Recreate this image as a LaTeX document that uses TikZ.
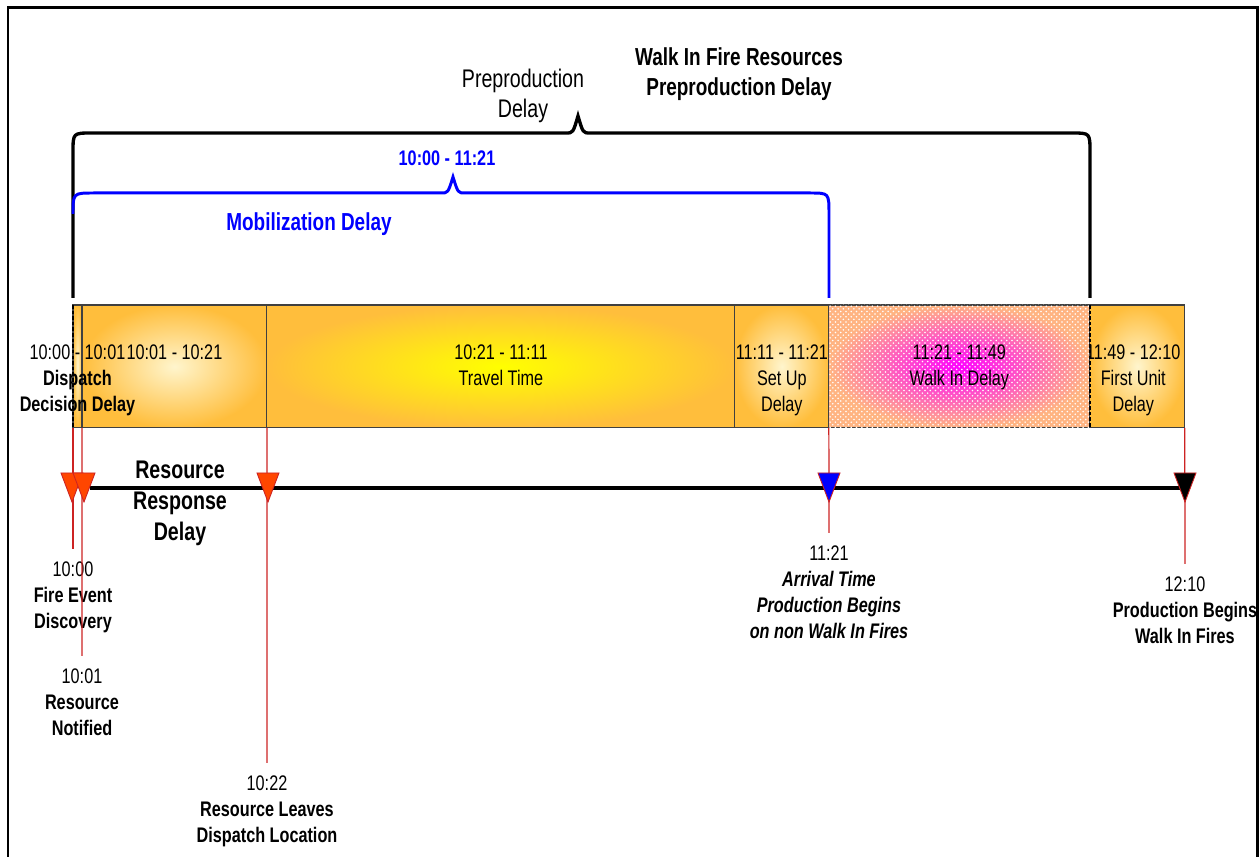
\documentclass[tikz,border=0pt]{standalone}
\usepackage{fontspec}
\setmainfont{Liberation Sans}[FakeStretch=0.77]
\usetikzlibrary{positioning,shapes.geometric,patterns}

\definecolor{barorange}{RGB}{255,190,60}
\definecolor{barcream}{RGB}{255,245,205}
\definecolor{baryellow}{RGB}{255,255,0}
\definecolor{walkpink}{RGB}{255,0,255}
\definecolor{walkedge}{RGB}{255,180,130}
\definecolor{tickred}{RGB}{205,35,35}
\definecolor{markred}{RGB}{255,70,0}
\definecolor{mobblue}{RGB}{0,0,255}

\newcommand\barfont{\fontsize{12}{14.8}\selectfont}
\newcommand\headfont{\fontsize{14.5}{17.2}\selectfont}

\begin{document}
\begin{tikzpicture}[x=0.02cm, y=-0.02cm,
  seg/.style={draw=black!75, line width=0.6pt, minimum height=2.46cm, inner sep=0pt, outer sep=0pt},
  warm/.style={seg, inner color=barcream, outer color=barorange},
  travel/.style={seg, inner color=baryellow, outer color=barorange},
  walkin/.style={seg, inner color=walkpink, outer color=walkedge, postaction={pattern=crosshatch dots, pattern color=white}},
  bartext/.style={align=center, inner sep=0pt, font=\barfont},
  divider/.style={line width=1.4pt, dash pattern=on 2pt off 1.2pt},
  brace/.style={line width=1.9pt},
  evlabel/.style={align=center, anchor=north, inner sep=7pt, font=\barfont},
  tick/.style={draw=tickred, line width=0.7pt},
  marker/.style={isosceles triangle, isosceles triangle stretches=true, rotate=-90, minimum width=0.44cm, minimum height=0.58cm, inner sep=0pt, outer sep=0pt, anchor=apex, draw=tickred, line width=0.5pt},
  timeline/.style={line width=2.4pt}
]
\useasboundingbox (0,0) rectangle (1259,857);
\draw[line width=1.7pt] (8,857) -- (8,8) -- (1257,8) -- (1257,857);

% braces over the bar
\draw[brace] (73,298) -- (73,152) .. controls (73,133) .. (92,133) -- (566,133) .. controls (573,133) .. (578,116) .. controls (583,133) .. (590,133) -- (1072,133) .. controls (1090,133) .. (1090,152) -- (1090,298);
\draw[brace, draw=mobblue, line width=1.7pt] (73,214) .. controls (73,193) .. (94,193) -- (441,193) .. controls (448,193) .. (453,177) .. controls (458,193) .. (465,193) -- (810,193) .. controls (829,193) .. (829,214) -- (829,298);

\node[font=\headfont, align=center] (hdrPre) at (523,96) {Preproduction\\Delay};
\node[font=\fontsize{14}{17.2}\selectfont\bfseries, align=center] (hdrWalk) at (739,74) {Walk In Fire Resources\\Preproduction Delay};
\node[font=\barfont\bfseries, text=mobblue] (hdrRange) at (447,158) {10:00 - 11:21};
\node[font=\fontsize{14}{17}\selectfont\bfseries, text=mobblue] (hdrMob) at (309,224) {Mobilization Delay};

% the bar
\node[warm, minimum width=0.18cm, anchor=north west] (seg0) at (73,305) {};
\node[warm, minimum width=3.7cm, right=0pt of seg0] (seg1) {};
\node[travel, minimum width=9.36cm, right=0pt of seg1] (seg2) {};
\node[warm, minimum width=1.88cm, right=0pt of seg2] (seg3) {};
\node[walkin, minimum width=5.22cm, right=0pt of seg3] (seg4) {};
\node[warm, minimum width=1.9cm, right=0pt of seg4] (seg5) {};

\node[bartext, below=0.79cm of seg0.north] (txt0) {10:00 - 10:01\\\textbf{Dispatch}\\\textbf{Decision Delay}};
\node[bartext, below=0.79cm of seg1.north] (txt1) {10:01 - 10:21};
\node[bartext, below=0.79cm of seg2.north] (txt2) {10:21 - 11:11\\Travel Time};
\node[bartext, below=0.79cm of seg3.north] (txt3) {11:11 - 11:21\\Set Up\\Delay};
\node[bartext, below=0.79cm of seg4.north] (txt4) {11:21 - 11:49\\Walk In Delay};
\begin{scope}
\clip (seg5.north west) rectangle (seg5.south east);
\node[bartext, below=0.79cm of seg5.north, xshift=-0.08cm] (txt5) {11:49 - 12:10\\First Unit\\Delay};
\end{scope}

\draw[divider] (seg0.north west) -- (seg0.south west);
\draw[divider] (seg5.north west) -- (seg5.south west);

% events below the bar
\node[evlabel] (lbDisc) at (73,549) {10:00\\\textbf{Fire Event}\\\textbf{Discovery}};
\node[evlabel] (lbNotif) at (82,656) {10:01\\\textbf{Resource}\\\textbf{Notified}};
\node[evlabel] (lbLeave) at (267,763) {10:22\\\textbf{Resource Leaves}\\\textbf{Dispatch Location}};
\node[evlabel] (lbArrive) at (829,533) {11:21\\\textbf{\itshape Arrival Time}\\\textbf{\itshape Production Begins}\\\textbf{\itshape on non Walk In Fires}};
\node[evlabel] (lbProd) at (1185,564) {12:10\\\textbf{Production Begins}\\\textbf{Walk In Fires}};

\draw[tick] (seg0.south west) -- (lbDisc.north);
\draw[tick] (seg1.south west) -- (lbNotif.north);
\draw[tick] (seg2.south west) -- (lbLeave.north);
\draw[tick] (seg4.south west) -- (lbArrive.north);
\draw[tick] (seg5.south east) -- (lbProd.north);

\coordinate (tlStart) at (90,488);
\coordinate (tlEnd) at (1185,488);
\draw[timeline] (tlStart) -- (tlEnd);

\node[marker, fill=markred] (mk1) at (72,502) {};
\node[marker, fill=markred] (mk2) at (84,502) {};
\node[marker, fill=markred] (mk3) at (268,502) {};
\node[marker, fill=mobblue] (mk4) at (829,502) {};
\node[marker, fill=black] (mk5) at (1185,502) {};

\node[font=\fontsize{14.5}{17.6}\selectfont\bfseries, align=center] (lbResp) at (180,503) {Resource\\Response\\Delay};
\end{tikzpicture}
\end{document}
